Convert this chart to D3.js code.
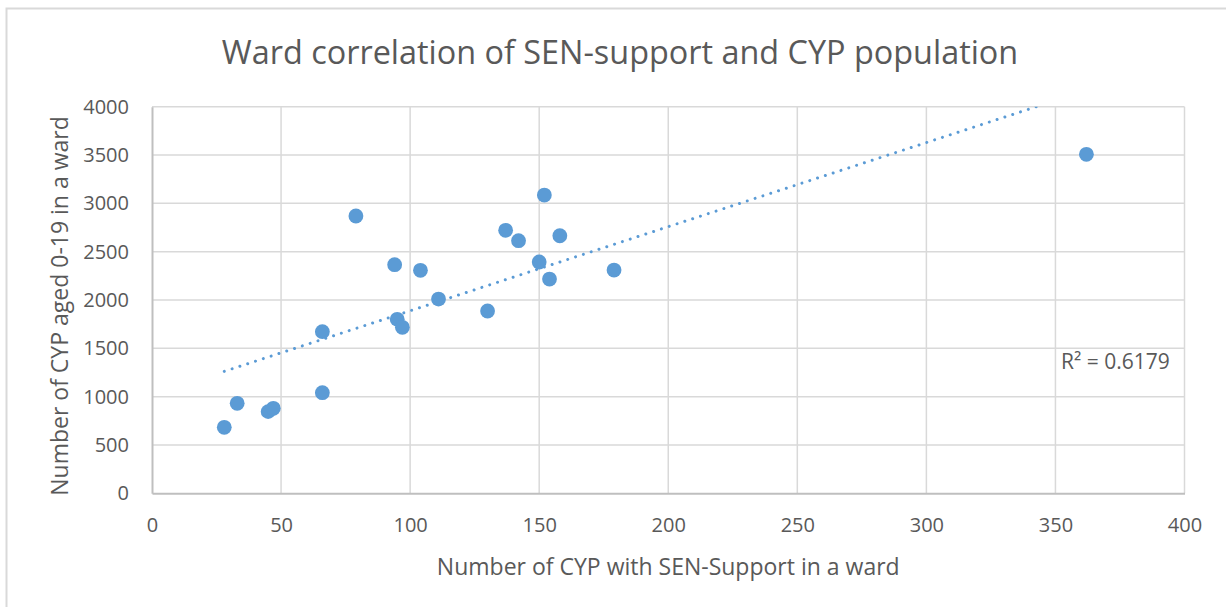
<!DOCTYPE html>
<html>
<head>
<meta charset="utf-8">
<script src="https://cdn.jsdelivr.net/npm/d3@7"></script>
<style>
  body { margin: 0; background: #fff; }
  text { font-family: "Open Sans", "Noto Sans", sans-serif; fill: #595959; }
</style>
</head>
<body>
<script>
// values
let senSupport = [28, 33, 45, 47, 66, 66, 79, 94, 95, 97, 104, 111, 130, 137, 142, 150, 152, 154, 158, 179, 362];
let population = [683, 931, 845, 879, 1041, 1672, 2869, 2365, 1800, 1717, 2307, 2010, 1886, 2721, 2614, 2393, 3086, 2217, 2665, 2310, 3507];
let xTicks = [0, 50, 100, 150, 200, 250, 300, 350, 400];
let yTicks = [0, 500, 1000, 1500, 2000, 2500, 3000, 3500, 4000];
let titleText = "Ward correlation of SEN-support and CYP population";
let xTitle = "Number of CYP with SEN-Support in a ward";
let yTitle = "Number of CYP aged 0-19 in a ward";
let rSquaredLabel = "R\u00B2 = 0.6179";

const width = 1226;
const height = 607;
const blue = "#5b9bd5";

const svg = d3.select("body")
    .append("svg")
    .attr("width", width)
    .attr("height", height);

// outer chart border (only top + left show in the picture)
svg.append("rect")
    .attr("x", 6.5).attr("y", 8.5)
    .attr("width", width + 10).attr("height", height + 10)
    .attr("fill", "none")
    .attr("stroke", "#d9d9d9")
    .attr("stroke-width", 2);

const plotLeft = 152, plotRight = 1184.5, plotTop = 106.7, plotBottom = 493.3;

const x = d3.scaleLinear().domain([0, 400]).range([plotLeft, plotRight]);
const y = d3.scaleLinear().domain([0, 4000]).range([plotBottom, plotTop]);

// gridlines
svg.append("g")
    .selectAll("line")
    .data(yTicks.slice(1))
    .enter()
    .append("line")
    .attr("x1", plotLeft).attr("x2", plotRight)
    .attr("y1", d => y(d)).attr("y2", d => y(d))
    .attr("stroke", "#d9d9d9").attr("stroke-width", 1.5);

svg.append("g")
    .selectAll("line")
    .data(xTicks.slice(1))
    .enter()
    .append("line")
    .attr("x1", d => x(d)).attr("x2", d => x(d))
    .attr("y1", plotTop).attr("y2", plotBottom)
    .attr("stroke", "#d9d9d9").attr("stroke-width", 1.5);

// axes via d3, styled like excel
const xAxis = svg.append("g")
    .attr("transform", `translate(0,${plotBottom})`)
    .call(d3.axisBottom(x).tickValues(xTicks).tickFormat(d3.format("d")).tickSize(0).tickPadding(25));
const yAxis = svg.append("g")
    .attr("transform", `translate(${plotLeft},0)`)
    .call(d3.axisLeft(y).tickValues(yTicks).tickFormat(d3.format("d")).tickSize(0).tickPadding(23));

[xAxis, yAxis].forEach(a => {
    a.select(".domain").attr("stroke", "#bfbfbf").attr("stroke-width", 2);
    a.selectAll("text")
        .style("font-family", '"Open Sans", sans-serif')
        .style("font-size", "20px")
        .attr("fill", "#595959");
});

// trendline (least squares, like excel's linear trendline)
const n = senSupport.length;
const mx = d3.mean(senSupport), my = d3.mean(population);
let sxy = 0, sxx = 0;
for (let i = 0; i < n; i++) {
    sxy += (senSupport[i] - mx) * (population[i] - my);
    sxx += (senSupport[i] - mx) ** 2;
}
const slope = sxy / sxx;
const intercept = my - slope * mx;
const x0 = d3.min(senSupport), x1 = d3.max(senSupport);

svg.append("defs").append("clipPath").attr("id", "plotclip")
    .append("rect")
    .attr("x", plotLeft).attr("y", plotTop)
    .attr("width", plotRight - plotLeft).attr("height", plotBottom - plotTop);

svg.append("line")
    .attr("clip-path", "url(#plotclip)")
    .attr("x1", x(x0)).attr("y1", y(intercept + slope * x0))
    .attr("x2", x(x1)).attr("y2", y(intercept + slope * x1))
    .attr("stroke", blue)
    .attr("stroke-width", 3)
    .attr("stroke-linecap", "round")
    .attr("stroke-dasharray", "0.01 8.2");

// points
svg.append("g")
    .selectAll("circle")
    .data(senSupport.map((d, i) => ({sx: d, py: population[i]})))
    .enter()
    .append("circle")
    .attr("cx", d => x(d.sx))
    .attr("cy", d => y(d.py))
    .attr("r", 7.4)
    .attr("fill", blue);

// R squared label
svg.append("text")
    .attr("x", 1061).attr("y", 369)
    .style("font-size", "21px")
    .text(rSquaredLabel);

// titles
svg.append("text")
    .attr("x", 620).attr("y", 64)
    .attr("text-anchor", "middle")
    .style("font-size", "32.4px")
    .text(titleText);

svg.append("text")
    .attr("x", (plotLeft + plotRight) / 2).attr("y", 575)
    .attr("text-anchor", "middle")
    .style("font-size", "23px")
    .text(xTitle);

svg.append("text")
    .attr("transform", `translate(68,${(plotTop + plotBottom) / 2 + 6}) rotate(-90)`)
    .attr("text-anchor", "middle")
    .style("font-size", "23px")
    .text(yTitle);
</script>
</body>
</html>
